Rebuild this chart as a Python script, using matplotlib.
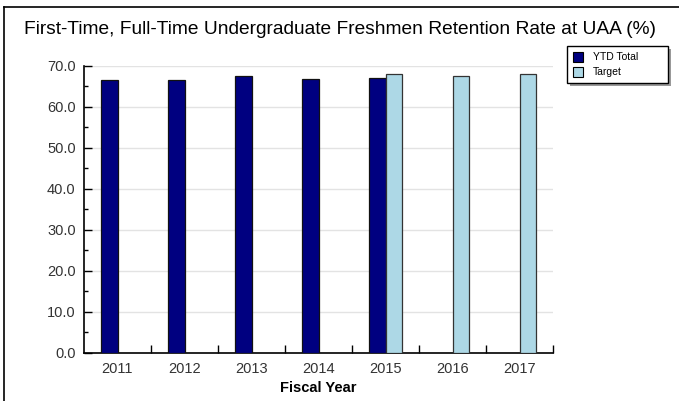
import matplotlib
matplotlib.use("Agg")
import matplotlib.pyplot as plt
import numpy as np
from matplotlib.patches import Rectangle
from matplotlib.lines import Line2D

years = ["2011", "2012", "2013", "2014", "2015", "2016", "2017"]
ytd_total = [66.5, 66.5, 67.6, 66.8, 67.0, np.nan, np.nan]
target = [np.nan, np.nan, np.nan, np.nan, 68.0, 67.6, 68.0]
y_ticks = [0, 10, 20, 30, 40, 50, 60, 70]

plt.rcParams['font.family'] = ['Liberation Sans', 'DejaVu Sans']

fig = plt.figure(figsize=(6.79, 4.01), dpi=100)
ax = fig.add_axes([84 / 679, (401 - 352.7) / 401, 469 / 679, 287 / 401])

x = np.arange(len(years))
w = 0.25
ax.bar(x - w / 2, ytd_total, width=w, color="#000080", edgecolor="#111111", linewidth=0.9, zorder=3, label="YTD Total")
ax.bar(x + w / 2, target, width=w, color="#ADD8E6", edgecolor="#333333", linewidth=0.9, zorder=3, label="Target")

ax.set_xlim(-0.5, len(years) - 0.5)
ax.set_ylim(0, 70)
ax.set_yticks(y_ticks)
ax.set_yticklabels([f"{v:.1f}" for v in y_ticks])
ax.set_yticks(np.arange(5, 70, 10), minor=True)
ax.set_xticks(x)
ax.set_xticklabels(years)
ax.set_xticks(np.arange(0.5, len(years) - 0.5 + 0.01, 1.0), minor=True)

ax.tick_params(axis="y", which="major", direction="in", length=6, width=1, labelsize=10.5, colors="black", labelcolor="#333333", pad=6)
ax.tick_params(axis="y", which="minor", direction="in", length=3, width=1)
ax.tick_params(axis="x", which="major", length=0, labelsize=10.5, labelcolor="#333333", pad=7)
ax.tick_params(axis="x", which="minor", direction="in", length=6, width=1)

for s in ["top", "right"]:
    ax.spines[s].set_visible(False)
for s in ["left", "bottom"]:
    ax.spines[s].set_linewidth(1.2)

ax.yaxis.grid(True, color="#e3e3e3", linewidth=1, zorder=0)
ax.set_axisbelow(True)

ax.set_xlabel("Fiscal Year", fontsize=10.5, fontweight="bold", labelpad=3)

fig.text(24 / 679, 1 - 30 / 401, "First-Time, Full-Time Undergraduate Freshmen Retention Rate at UAA (%)",
         fontsize=13.8, va="center", ha="left")

# figure border (left and top)
fig.add_artist(Line2D([4 / 679, 4 / 679], [0, 1 - 7 / 401], transform=fig.transFigure, color="black", linewidth=1.2))
fig.add_artist(Line2D([4 / 679, 1], [1 - 7 / 401, 1 - 7 / 401], transform=fig.transFigure, color="black", linewidth=1.2))

# legend with shadow
lx0, ly0, lx1, ly1 = 567, 46, 668, 83
fig.add_artist(Rectangle(((lx0 + 3) / 679, 1 - (ly1 + 3) / 401), (lx1 - lx0) / 679, (ly1 - ly0) / 401,
                         transform=fig.transFigure, facecolor="#999999", edgecolor="none"))
fig.add_artist(Rectangle((lx0 / 679, 1 - ly1 / 401), (lx1 - lx0) / 679, (ly1 - ly0) / 401,
                         transform=fig.transFigure, facecolor="white", edgecolor="black", linewidth=1))
entries = [("YTD Total", "#000080"), ("Target", "#ADD8E6")]
for i, (lab, col) in enumerate(entries):
    cy = 57 + i * 15
    fig.add_artist(Rectangle((573 / 679, 1 - (cy + 5) / 401), 10 / 679, 10 / 401,
                             transform=fig.transFigure, facecolor=col, edgecolor="black", linewidth=0.8))
    fig.text(593 / 679, 1 - cy / 401, lab, fontsize=7.5, va="center", ha="left")

fig.savefig("out.png", dpi=100)
